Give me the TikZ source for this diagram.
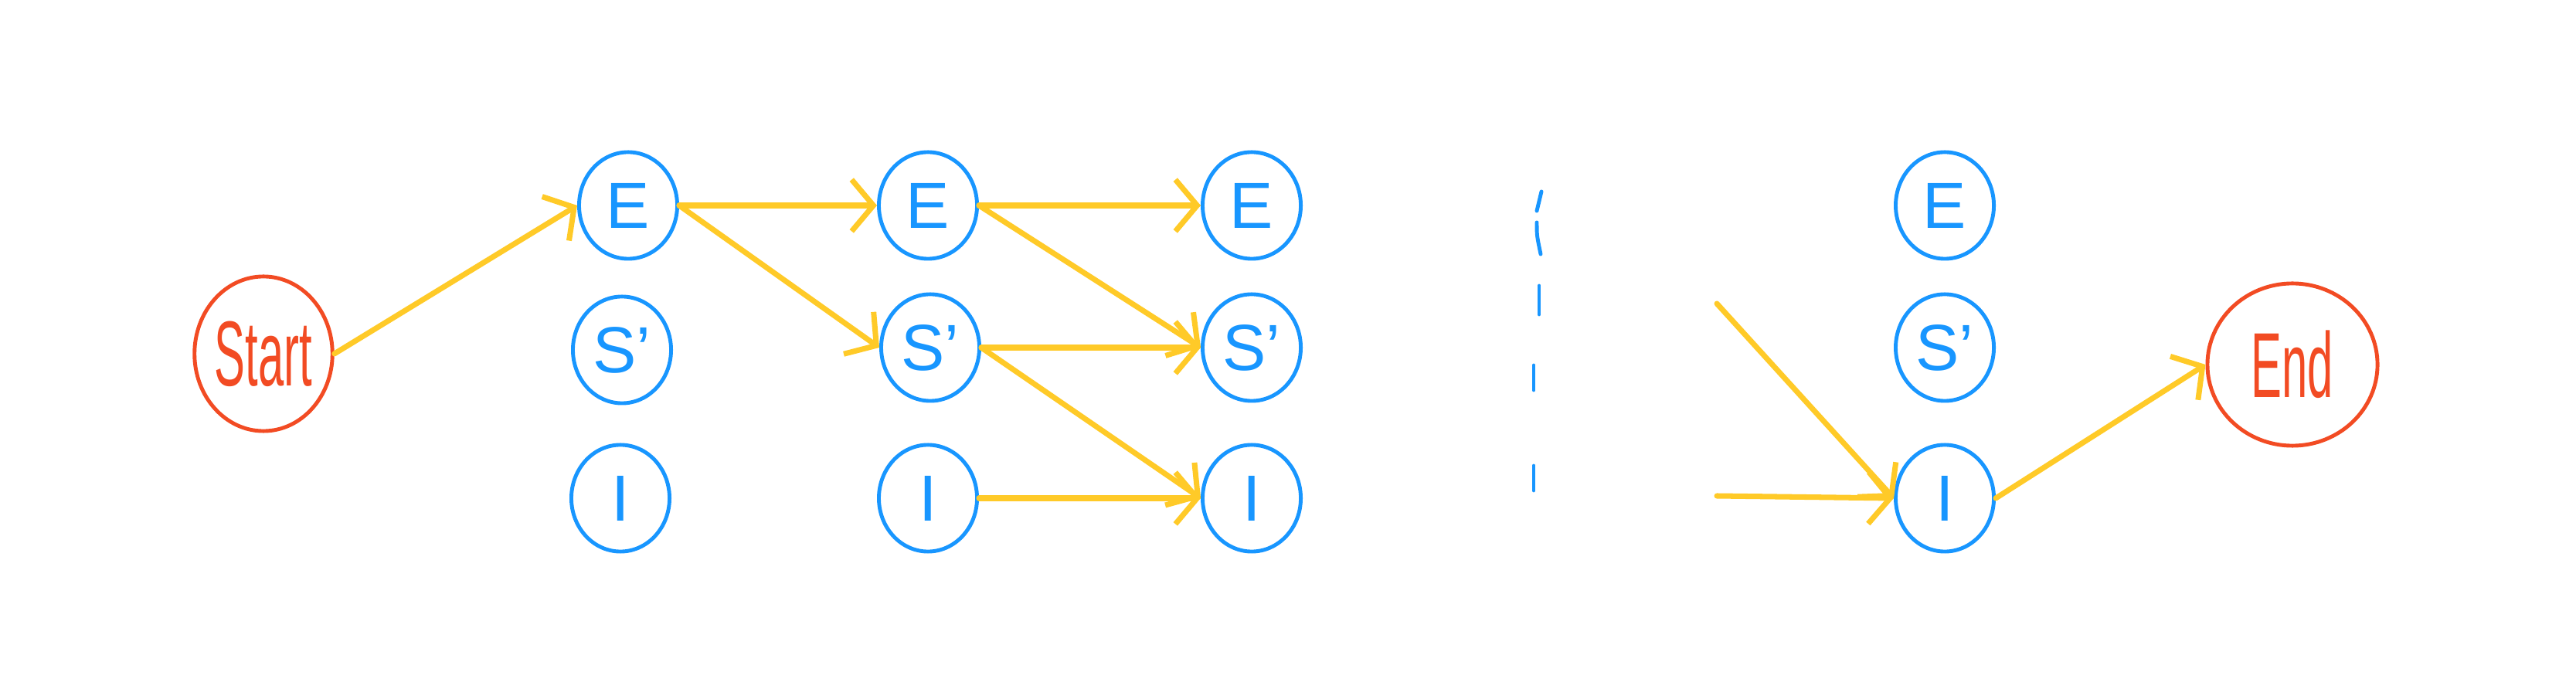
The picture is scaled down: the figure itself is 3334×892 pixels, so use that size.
\documentclass[tikz,border=0pt]{standalone}
\usepackage{fontspec}
\setmainfont{Liberation Sans}
\usetikzlibrary{arrows.meta,shapes.geometric}
\definecolor{hblue}{RGB}{24,150,255}
\definecolor{hyellow}{RGB}{255,202,40}
\definecolor{hred}{RGB}{242,75,35}
\tikzset{
  state/.style={ellipse, draw=hblue, line width=1.4pt, text=hblue,
    minimum width=1.27cm, minimum height=1.38cm, inner sep=0pt,
    font=\fontsize{24}{24}\selectfont},
  termnode/.style={ellipse, draw=hred, line width=1.4pt, text=hred,
    inner sep=0pt, font=\fontsize{17}{17}\selectfont},
  arr/.style={draw=hyellow, line width=2pt, line cap=round,
    -{Straight Barb[length=8pt,width=19pt,line width=2pt]}},
  dashseg/.style={draw=hblue, line width=1.4pt, line cap=round}
}
\begin{document}
\begin{tikzpicture}[x=0.01cm,y=-0.01cm]
\useasboundingbox (0,0) rectangle (3334,892);
% start / end
\node[termnode, minimum width=1.64cm, minimum height=2.0cm] (start) at (341,458) {\scalebox{1}[2.0]{Start}};
\node[termnode, minimum width=2.2cm, minimum height=2.1cm] (end) at (2967,472) {\scalebox{1}[2.0]{End}};
% column 1
\node[state] (E1) at (813,266) {E};
\node[state] (S1) at (805,453) {S'};
\node[state] (I1) at (803,645) {I};
% column 2
\node[state] (E2) at (1201,266) {E};
\node[state] (S2) at (1204,450) {S'};
\node[state] (I2) at (1201,645) {I};
% column 3
\node[state] (E3) at (1620,266) {E};
\node[state] (S3) at (1620,450) {S'};
\node[state] (I3) at (1620,645) {I};
% column 4
\node[state] (E4) at (2517,266) {E};
\node[state] (S4) at (2517,450) {S'};
\node[state] (I4) at (2517,645) {I};
% free ends
\coordinate (f1) at (2222,393);
\coordinate (f2) at (2222,642);
% dashed separator
\draw[dashseg] (1995,248) -- (1989,273);
\draw[dashseg] (1989,288) .. controls (1989,305) .. (1994,329);
\draw[dashseg] (1992,370) -- (1992,407);
\draw[dashseg] (1985,473) -- (1985,505);
\draw[dashseg] (1985,603) -- (1985,635);
% arrows
\draw[arr] (start.east) -- (E1.west);
\draw[arr] (E1.east) -- (E2.west);
\draw[arr] (E1.east) -- (S2.west);
\draw[arr] (E2.east) -- (E3.west);
\draw[arr] (E2.east) -- (S3.west);
\draw[arr] (S2.east) -- (S3.west);
\draw[arr] (S2.east) -- (I3.west);
\draw[arr] (I2.east) -- (I3.west);
\draw[arr] (f1) -- (I4.west);
\draw[arr] (f2) -- (I4.west);
\draw[arr] (I4.east) -- (end.west);
\end{tikzpicture}
\end{document}
